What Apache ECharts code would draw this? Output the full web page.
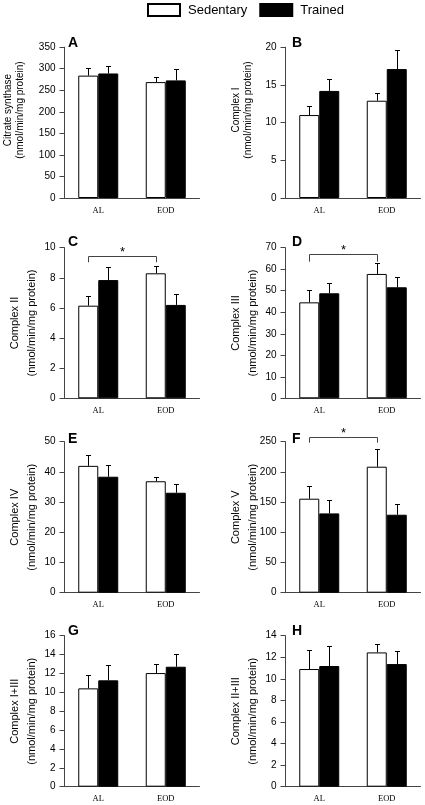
<!DOCTYPE html>
<html>
<head>
<meta charset="utf-8">
<script src="https://cdn.jsdelivr.net/npm/echarts@6/dist/echarts.min.js"></script>
<style>html,body{margin:0;padding:0;background:#fff;}#c{width:425px;height:805px;}</style>
</head>
<body>
<div id="c"></div>
<script>
const categories = ['AL', 'EOD'];
const groupNames = ['Sedentary', 'Trained'];
const panelLetters = ['A', 'B', 'C', 'D', 'E', 'F', 'G', 'H'];
const yTitles = ['Citrate synthase', 'Complex I', 'Complex II', 'Complex III', 'Complex IV', 'Complex V', 'Complex I+III', 'Complex II+III'];
const unitLabel = '(nmol/min/mg protein)';
const yMax = [350, 20, 10, 70, 50, 250, 16, 14];
const yStep = [50, 5, 2, 10, 10, 50, 2, 2];
const sedentaryMean = [[284, 269], [11.0, 12.9], [6.15, 8.3], [44.6, 57.8], [42.0, 36.9], [155.6, 208.6], [10.42, 12.04], [10.91, 12.45]];
const sedentarySEM  = [[18, 12], [1.2, 1.0], [0.65, 0.46], [5.7, 5.2], [3.75, 1.4], [20.4, 28.7], [1.45, 0.96], [1.79, 0.81]];
const trainedMean   = [[289, 273], [14.2, 17.1], [7.85, 6.2], [48.8, 51.6], [38.4, 33.1], [131.3, 129.1], [11.27, 12.71], [11.19, 11.37]];
const trainedSEM    = [[18, 26], [1.6, 2.5], [0.85, 0.7], [4.6, 4.9], [3.9, 2.8], [21.6, 18.3], [1.59, 1.38], [1.88, 1.24]];
// significance brackets (AL Sedentary vs EOD Sedentary)
const sigPanels = [2, 3, 5];
const sigLevel = [9.47, 67.1, 258.3];
const sigEnd = [9.03, 63.5, 248.3];

// layout
const colLeft = [64.5, 285.5];
const rowTop = [47.2, 247.7, 441.7, 635.7];
const rowHeight = [150.8, 150.6, 151, 151];
const letterLeft = [68, 292];
const letterTop = [36, 235, 432, 624];
const HALF = 10; // half bar width in px

const grid = [], xAxis = [], yAxis = [], series = [], title = [], graphic = [];
const sans = 'Liberation Sans, Arial, sans-serif';

for (let i = 0; i < 8; i++) {
  const col = i % 2, row = Math.floor(i / 2);
  grid.push({ left: colLeft[col], top: rowTop[row], width: 135, height: rowHeight[row] });
  xAxis.push({
    type: 'category', gridIndex: i, data: categories,
    axisLine: { lineStyle: { color: '#444', width: 1 } },
    axisTick: { show: false },
    axisLabel: { fontFamily: 'Liberation Serif, Times New Roman, serif', fontSize: 8.5, color: '#000', margin: 8 }
  });
  yAxis.push({
    type: 'value', gridIndex: i, min: 0, max: yMax[i], interval: yStep[i],
    axisLine: { show: true, lineStyle: { color: '#444', width: 1 } },
    axisTick: { show: true, length: 5, lineStyle: { color: '#444' } },
    splitLine: { show: false },
    axisLabel: { fontFamily: sans, fontSize: 10, color: '#000', margin: 9 }
  });
  series.push({
    type: 'bar', name: groupNames[0], xAxisIndex: i, yAxisIndex: i,
    data: sedentaryMean[i], barWidth: 20, barGap: '0%',
    itemStyle: { color: '#fff', borderColor: '#000', borderWidth: 1 }
  });
  series.push({
    type: 'bar', name: groupNames[1], xAxisIndex: i, yAxisIndex: i,
    data: trainedMean[i], barWidth: 20, barGap: '0%',
    itemStyle: { color: '#000', borderColor: '#000', borderWidth: 1 }
  });
  const errData = [];
  for (let k = 0; k < categories.length; k++) {
    errData.push([k, sedentaryMean[i][k], sedentaryMean[i][k] + sedentarySEM[i][k], -1]);
    errData.push([k, trainedMean[i][k], trainedMean[i][k] + trainedSEM[i][k], 1]);
  }
  series.push({
    type: 'custom', name: 'err' + i, xAxisIndex: i, yAxisIndex: i, z: 5, silent: true,
    encode: { x: 0, y: [1, 2] },
    data: errData,
    renderItem: function (params, api) {
      const p0 = api.coord([api.value(0), api.value(1)]);
      const p1 = api.coord([api.value(0), api.value(2)]);
      const x = Math.round(p0[0] + api.value(3) * HALF) + 0.5;
      const yt = Math.round(p1[1]) + 0.5;
      const st = { stroke: '#000', lineWidth: 1 };
      return { type: 'group', children: [
        { type: 'line', shape: { x1: x, y1: p0[1], x2: x, y2: yt }, style: st },
        { type: 'line', shape: { x1: x - 2.5, y1: yt, x2: x + 2.5, y2: yt }, style: st }
      ] };
    }
  });
  title.push({
    text: panelLetters[i], left: letterLeft[col], top: letterTop[row], padding: 0,
    textStyle: { fontFamily: sans, fontSize: 14, fontWeight: 'bold', color: '#000' }
  });
  const top = row === 0;
  const cx = top ? (col === 0 ? 14 : 242.5) : (col === 0 ? 23 : 244.5);
  const cy = top ? 110 : rowTop[row] + rowHeight[row] / 2;
  graphic.push({
    type: 'text', x: cx, y: cy, rotation: Math.PI / 2,
    style: {
      text: yTitles[i] + '\n' + unitLabel, fill: '#000',
      fontFamily: sans, fontSize: top ? 10 : 11,
      lineHeight: top ? 12 : 17,
      align: 'center', verticalAlign: 'middle'
    }
  });
}

for (let s = 0; s < sigPanels.length; s++) {
  const i = sigPanels[s];
  series.push({
    type: 'custom', name: 'sig' + i, xAxisIndex: i, yAxisIndex: i, z: 6, silent: true, clip: false,
    data: [[0, 1, sigLevel[s], sigEnd[s]]],
    renderItem: function (params, api) {
      const a = api.coord([api.value(0), api.value(2)]);
      const b = api.coord([api.value(1), api.value(2)]);
      const e = api.coord([api.value(0), api.value(3)]);
      const x1 = Math.round(a[0] - HALF) + 0.5, x2 = Math.round(b[0] - HALF) + 0.5;
      const y = Math.round(a[1]) + 0.5, ye = e[1];
      const st = { stroke: '#444', lineWidth: 1, fill: null };
      return { type: 'group', children: [
        { type: 'polyline', shape: { points: [[x1, ye], [x1, y], [x2, y], [x2, ye]] }, style: st },
        { type: 'text', x: (x1 + x2) / 2, y: y - 4, style: { text: '*', fill: '#000', fontFamily: sans, fontSize: 13, align: 'center', verticalAlign: 'middle' } }
      ] };
    }
  });
}

const chart = echarts.init(document.getElementById('c'), null, { renderer: 'canvas' });
chart.setOption({
  animation: false,
  backgroundColor: '#fff',
  title: title,
  legend: {
    data: groupNames, left: 147, top: 3, padding: 0, itemWidth: 32, itemHeight: 12, itemGap: 12,
    selectedMode: false, icon: 'rect',
    textStyle: { fontFamily: sans, fontSize: 13, color: '#000', padding: [0, 0, 0, 3] }
  },
  grid: grid, xAxis: xAxis, yAxis: yAxis, series: series, graphic: graphic
});
</script>
</body>
</html>
